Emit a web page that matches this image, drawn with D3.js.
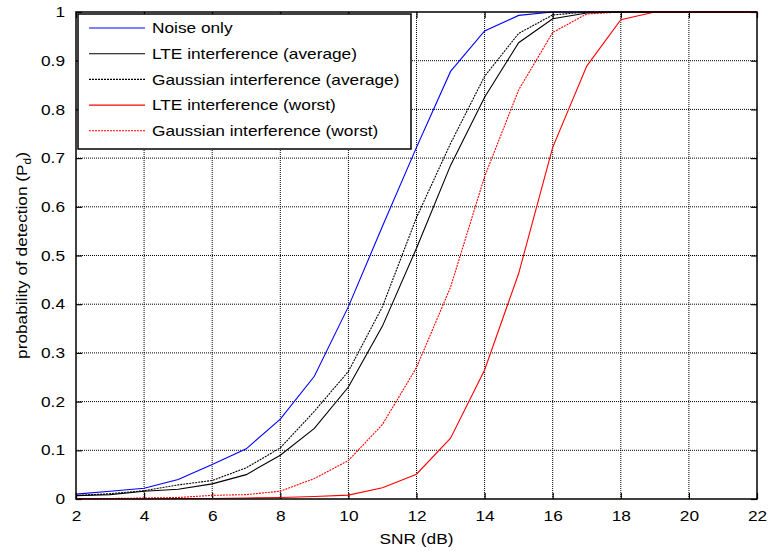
<!DOCTYPE html>
<html>
<head>
<meta charset="utf-8">
<script src="https://cdn.jsdelivr.net/npm/d3@7"></script>
<style>
  body { margin: 0; background: #fff; }
  svg { display: block; font-family: Arial, "Liberation Sans", sans-serif; }
</style>
</head>
<body>
<div id="chart"></div>
<script>
// SNR in dB
const snr = [2,3,4,5,6,7,8,9,10,11,12,13,14,15,16,17,18,19,20,21,22];

const noiseOnly  = [0.010,0.016,0.022,0.040,0.071,0.103,0.164,0.252,0.395,0.560,0.722,0.878,0.961,0.993,1,1,1,1,1,1,1];
const lteAvg     = [0.007,0.009,0.016,0.020,0.031,0.050,0.090,0.145,0.230,0.355,0.515,0.685,0.825,0.937,0.986,0.998,1,1,1,1,1];
const gaussAvg   = [0.007,0.011,0.017,0.029,0.038,0.064,0.105,0.180,0.262,0.395,0.578,0.730,0.868,0.956,0.994,1,1,1,1,1,1];
const lteWorst   = [0,0,0,0.001,0.001,0.002,0.003,0.005,0.008,0.023,0.051,0.125,0.265,0.463,0.722,0.889,0.984,1,1,1,1];
const gaussWorst = [0.001,0.001,0.002,0.003,0.0075,0.009,0.016,0.042,0.079,0.153,0.270,0.435,0.662,0.840,0.958,0.996,1,1,1,1,1];

const xTicks = [2,4,6,8,10,12,14,16,18,20,22];
const yTicks = [0,0.1,0.2,0.3,0.4,0.5,0.6,0.7,0.8,0.9,1];

const series = [
  { name: "Noise only", values: noiseOnly, color: "#0000ff", dash: null },
  { name: "LTE interference (average)", values: lteAvg, color: "#000000", dash: null },
  { name: "Gaussian interference (average)", values: gaussAvg, color: "#000000", dash: "2,1" },
  { name: "LTE interference (worst)", values: lteWorst, color: "#ff0000", dash: null },
  { name: "Gaussian interference (worst)", values: gaussWorst, color: "#ff0000", dash: "2,1" }
];

const FS = 14.5;      // font size
const STRETCH = 1.19; // the original font runs wider than Arial

let W = 768, H = 551;
let margin = {top: 12, right: 11, bottom: 52, left: 76},
    width = W - margin.left - margin.right,
    height = H - margin.top - margin.bottom;

let svg = d3.select("#chart").append("svg")
    .attr("width", W).attr("height", H);
let g = svg.append("g")
    .attr("transform", "translate(" + margin.left + "," + margin.top + ")");

let x = d3.scaleLinear().domain([2, 22]).range([0, width]);
let y = d3.scaleLinear().domain([0, 1]).range([height, 0]);

// grid
g.append("g").selectAll("line").data(xTicks.slice(1, -1)).enter().append("line")
    .attr("x1", d => x(d)).attr("x2", d => x(d))
    .attr("y1", 0).attr("y2", height)
    .attr("stroke", "#000").attr("stroke-width", 1).attr("stroke-dasharray", "1,1");
g.append("g").selectAll("line").data(yTicks.slice(1, -1)).enter().append("line")
    .attr("x1", 0).attr("x2", width)
    .attr("y1", d => y(d)).attr("y2", d => y(d))
    .attr("stroke", "#000").attr("stroke-width", 1).attr("stroke-dasharray", "1,1");

// axes (inward ticks on all four sides)
const tickFmt = d => d3.format("~g")(d);
let xAxis = g.append("g").attr("transform", "translate(0," + height + ")")
    .call(d3.axisBottom(x).tickValues(xTicks).tickSizeInner(-6).tickSizeOuter(0).tickPadding(12).tickFormat(tickFmt));
let xTop = g.append("g")
    .call(d3.axisTop(x).tickValues(xTicks).tickSizeInner(-6).tickSizeOuter(0).tickFormat(""));
let yAxis = g.append("g")
    .call(d3.axisLeft(y).tickValues(yTicks).tickSizeInner(-6).tickSizeOuter(0).tickPadding(11).tickFormat(tickFmt));
let yRight = g.append("g").attr("transform", "translate(" + width + ",0)")
    .call(d3.axisRight(y).tickValues(yTicks).tickSizeInner(-6).tickSizeOuter(0).tickFormat(""));

[xAxis, xTop, yAxis, yRight].forEach(a => {
  a.selectAll(".domain").remove();
  a.selectAll("line").attr("stroke", "#000").attr("stroke-width", 1.2);
  a.selectAll("text").attr("font-size", FS).attr("fill", "#000")
      .attr("font-family", 'Arial, "Liberation Sans", sans-serif')
      .classed("stretch", true);
});

// lines
let line = d3.line()
    .x((d, i) => x(snr[i]))
    .y(d => y(d));

series.forEach(s => {
  g.append("path")
      .datum(s.values)
      .attr("fill", "none")
      .attr("stroke", s.color)
      .attr("stroke-width", 1.1)
      .attr("stroke-dasharray", s.dash)
      .attr("d", line);
});

// frame
g.append("rect")
    .attr("x", 0).attr("y", 0).attr("width", width).attr("height", height)
    .attr("fill", "none").attr("stroke", "#000").attr("stroke-width", 1.5);

// legend
let legend = g.append("g").attr("transform", "translate(2,2)");
legend.append("rect")
    .attr("width", 333).attr("height", 135)
    .attr("fill", "#fff").attr("stroke", "#000").attr("stroke-width", 1.5);
series.forEach((s, i) => {
  let ly = 14 + i * 25.7;
  legend.append("line")
      .attr("x1", 11).attr("x2", 67).attr("y1", ly).attr("y2", ly)
      .attr("stroke", s.color).attr("stroke-width", 1.1)
      .attr("stroke-dasharray", s.dash);
  legend.append("text")
      .attr("class", "stretch")
      .attr("x", 74).attr("y", ly).attr("dy", "0.36em")
      .attr("font-size", FS).attr("fill", "#000")
      .text(s.name);
});

// axis labels
svg.append("text")
    .attr("class", "stretch")
    .attr("x", margin.left + width / 2).attr("y", 544)
    .attr("text-anchor", "middle").attr("font-size", FS)
    .text("SNR (dB)");

let yl = svg.append("text")
    .attr("transform", "translate(27," + (margin.top + height / 2) + ")rotate(-90)scale(" + STRETCH + ",1)")
    .attr("text-anchor", "middle").attr("font-size", FS);
yl.append("tspan").text("probability of detection (P");
yl.append("tspan").attr("font-size", 10).attr("dy", 4).text("d");
yl.append("tspan").attr("dy", -4).text(")");

// widen plain texts in place
svg.selectAll("text.stretch").each(function() {
  let len = this.getComputedTextLength();
  d3.select(this).attr("textLength", len * STRETCH).attr("lengthAdjust", "spacingAndGlyphs");
});
</script>
</body>
</html>
